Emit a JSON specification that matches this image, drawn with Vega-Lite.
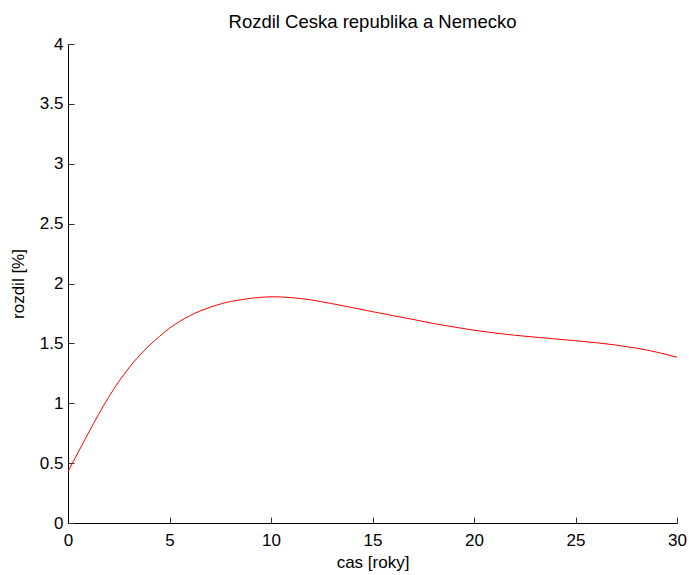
{
  "$schema": "https://vega.github.io/schema/vega-lite/v6.json",
  "autosize": {"type": "none"},
  "width": 609,
  "height": 479,
  "padding": {"left": 68, "top": 44, "right": 12, "bottom": 52},
  "background": "white",
  "title": {
    "text": "Rozdil Ceska republika a Nemecko",
    "font": "Liberation Sans",
    "fontSize": 18.5,
    "fontWeight": "normal",
    "color": "black",
    "anchor": "middle",
    "offset": 4
  },
  "data": {
    "values": [
      {"t": 0, "r": 0.43},
      {"t": 0.5, "r": 0.59},
      {"t": 1, "r": 0.75},
      {"t": 1.5, "r": 0.905},
      {"t": 2, "r": 1.05},
      {"t": 2.5, "r": 1.18},
      {"t": 3, "r": 1.295},
      {"t": 3.5, "r": 1.395},
      {"t": 4, "r": 1.482},
      {"t": 4.5, "r": 1.557},
      {"t": 5, "r": 1.627},
      {"t": 5.5, "r": 1.683},
      {"t": 6, "r": 1.731},
      {"t": 6.5, "r": 1.77},
      {"t": 7, "r": 1.802},
      {"t": 7.5, "r": 1.828},
      {"t": 8, "r": 1.849},
      {"t": 9, "r": 1.876},
      {"t": 10, "r": 1.889},
      {"t": 11, "r": 1.882},
      {"t": 12, "r": 1.862},
      {"t": 13, "r": 1.832},
      {"t": 14, "r": 1.799},
      {"t": 15, "r": 1.765},
      {"t": 16, "r": 1.732},
      {"t": 17, "r": 1.7},
      {"t": 18, "r": 1.666},
      {"t": 19, "r": 1.637},
      {"t": 20, "r": 1.61},
      {"t": 21, "r": 1.587},
      {"t": 22, "r": 1.568},
      {"t": 23, "r": 1.552},
      {"t": 24, "r": 1.537},
      {"t": 25, "r": 1.522},
      {"t": 26, "r": 1.506},
      {"t": 27, "r": 1.486},
      {"t": 28, "r": 1.46},
      {"t": 29, "r": 1.427},
      {"t": 30, "r": 1.384}
    ]
  },
  "mark": {"type": "line", "color": "#ff0000", "strokeWidth": 1, "interpolate": "natural"},
  "encoding": {
    "x": {
      "field": "t",
      "type": "quantitative",
      "scale": {"domain": [0, 30], "nice": false, "zero": false},
      "axis": {
        "title": "cas [roky]",
        "values": [0, 5, 10, 15, 20, 25, 30],
        "format": "~g",
        "grid": false,
        "labelFlush": false,
        "labelOverlap": false,
        "domainColor": "black",
        "tickColor": "#333333",
        "tickSize": -6,
        "labelPadding": 15,
        "labelFont": "Liberation Sans",
        "labelFontSize": 17,
        "labelColor": "black",
        "titleFont": "Liberation Sans",
        "titleFontSize": 17,
        "titleFontWeight": "normal",
        "titleColor": "black",
        "titlePadding": 6
      }
    },
    "y": {
      "field": "r",
      "type": "quantitative",
      "scale": {"domain": [0, 4], "nice": false, "zero": false},
      "axis": {
        "title": "rozdil [%]",
        "values": [0, 0.5, 1, 1.5, 2, 2.5, 3, 3.5, 4],
        "format": "~g",
        "grid": false,
        "labelFlush": false,
        "labelOverlap": false,
        "domainColor": "black",
        "tickColor": "#333333",
        "tickSize": -6,
        "labelPadding": 11,
        "labelFont": "Liberation Sans",
        "labelFontSize": 17,
        "labelColor": "black",
        "titleFont": "Liberation Sans",
        "titleFontSize": 17,
        "titleFontWeight": "normal",
        "titleColor": "black",
        "titlePadding": 12
      }
    }
  },
  "config": {"view": {"stroke": null}}
}
